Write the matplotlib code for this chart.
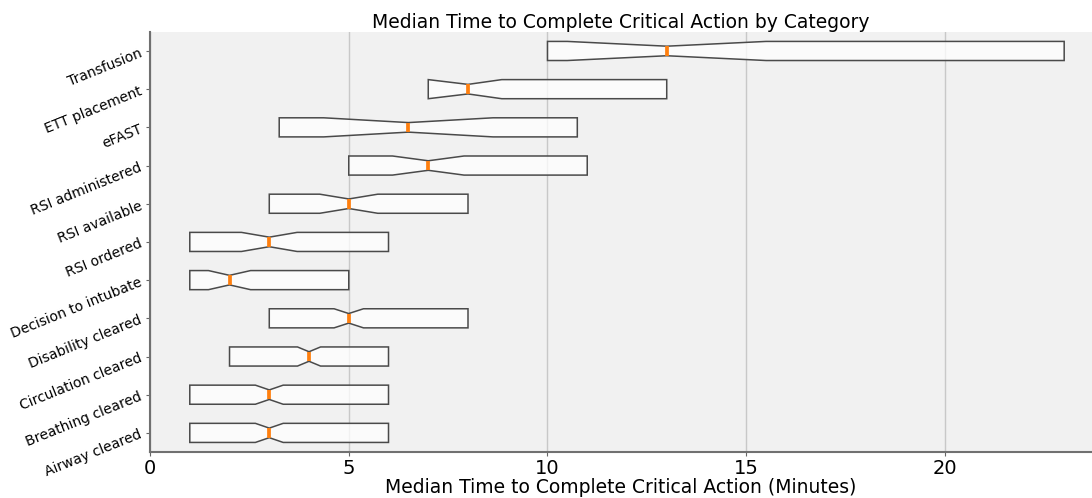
import numpy as np
import matplotlib
matplotlib.use("Agg")
import matplotlib.pyplot as plt

# categories, bottom to top
categories = ['Airway cleared', 'Breathing cleared', 'Circulation cleared',
              'Disability cleared', 'Decision to intubate', 'RSI ordered',
              'RSI available', 'RSI administered', 'eFAST', 'ETT placement',
              'Transfusion']
q1 = [1, 1, 2, 3, 1, 1, 3, 5, 3.25, 7, 10]
med = [3, 3, 4, 5, 2, 3, 5, 7, 6.5, 8, 13]
q3 = [6, 6, 6, 8, 5, 6, 8, 11, 10.75, 13, 23]
ci_lo = [2.65, 2.65, 3.71, 4.63, 1.47, 2.3, 4.27, 6.1, 4.37, 7.0, 10.5]
ci_hi = [3.35, 3.35, 4.29, 5.37, 2.53, 3.7, 5.73, 7.9, 8.63, 8.85, 15.5]

stats = []
for i in range(len(categories)):
    stats.append(dict(med=med[i], q1=q1[i], q3=q3[i], cilo=ci_lo[i], cihi=ci_hi[i],
                      whislo=q1[i], whishi=q3[i], fliers=[], label=categories[i]))

fig = plt.figure(figsize=(10.92, 4.98), dpi=100)
ax = fig.add_axes([0.1374, 0.0924, 0.8626, 0.8436])
ax.set_facecolor('#f1f1f1')
ax.grid(axis='x', color='#c8c8c8', linewidth=1)
ax.set_axisbelow(True)

ax.bxp(stats, orientation='horizontal', shownotches=True, patch_artist=True,
       showfliers=False, showcaps=False, widths=0.5,
       boxprops=dict(facecolor=(1, 1, 1, 0.75), edgecolor='#4a4a4a', linewidth=1.1),
       whiskerprops=dict(linewidth=0),
       medianprops=dict(color='#ff7f0e', linewidth=2.7))

ax.set_xlim(0, 23.7)
ax.set_ylim(0.5, 11.5)
ax.set_xticks([0, 5, 10, 15, 20])
ax.set_xticklabels(['0', '5', '10', '15', '20'])
ax.tick_params(axis='x', labelsize=14, colors='#666666', labelcolor='black', length=3, pad=2)
ax.tick_params(axis='y', labelsize=10, colors='#666666', labelcolor='black', length=3)
plt.setp(ax.get_yticklabels(), rotation=22, ha='right', rotation_mode='anchor')

for s in ['top', 'right']:
    ax.spines[s].set_visible(False)
for s in ['left', 'bottom']:
    ax.spines[s].set_color('#707070')
    ax.spines[s].set_linewidth(1.5)

ax.set_title('Median Time to Complete Critical Action by Category', fontsize=13.5, pad=3)
ax.set_xlabel('Median Time to Complete Critical Action (Minutes)', fontsize=13.5, labelpad=0)

fig.savefig('out.png', dpi=100)
